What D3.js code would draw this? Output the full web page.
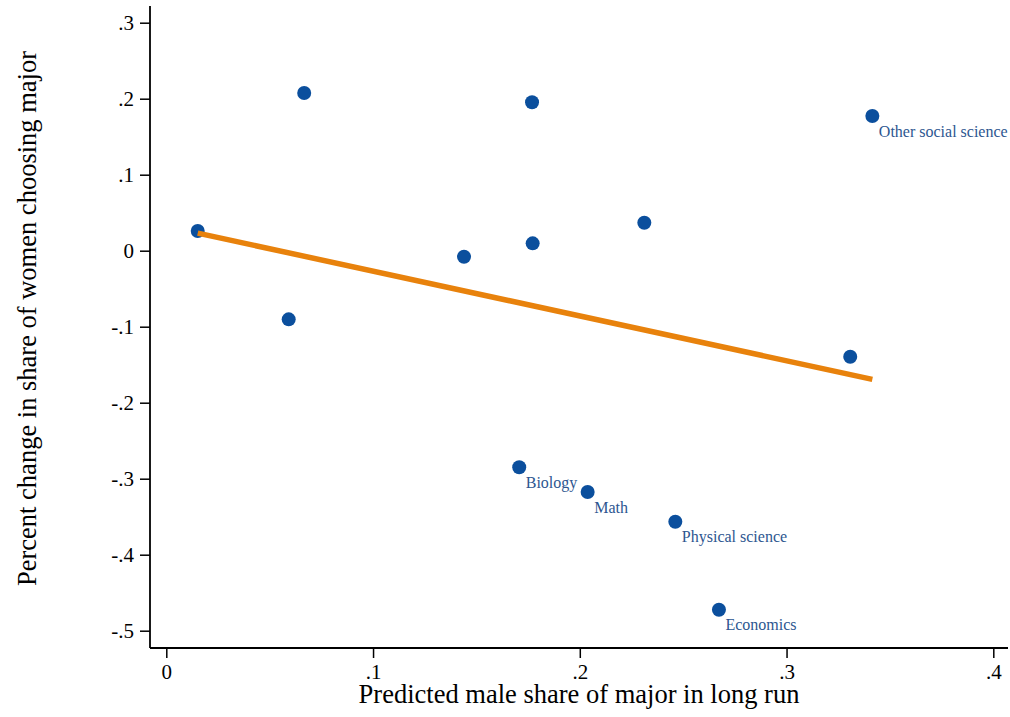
<!DOCTYPE html>
<html>
<head>
<meta charset="utf-8">
<script src="https://cdn.jsdelivr.net/npm/d3@7"></script>
<style>
  body { margin: 0; background: #fff; }
  text { font-family: "Liberation Serif", "Times New Roman", serif; }
</style>
</head>
<body>
<div id="chart"></div>
<script>
// values
const maleShare = [0.0152, 0.0667, 0.1769, 0.1440, 0.1772, 0.2312, 0.0592, 0.1707, 0.2038, 0.2462, 0.2673, 0.3415, 0.3308];
const womenChange = [0.0259, 0.2075, 0.1953, -0.0079, 0.0097, 0.0368, -0.0903, -0.2850, -0.3175, -0.3566, -0.4724, 0.1772, -0.1395];
const majorLabels = ["", "", "", "", "", "", "", "Biology", "Math", "Physical science", "Economics", "Other social science", ""];
const xTicks = [0, 0.1, 0.2, 0.3, 0.4];
const yTicks = [0.3, 0.2, 0.1, 0, -0.1, -0.2, -0.3, -0.4, -0.5];

const W = 1010, H = 717;
const plotLeft = 150, plotRight = 1008, plotTop = 6, plotBottom = 648;

const svg = d3.select("#chart").append("svg")
  .attr("width", W)
  .attr("height", H);

const x = d3.scaleLinear().domain([0, 0.4]).range([166.3, 993.3]);
const y = d3.scaleLinear().domain([-0.5, 0.3]).range([630.7, 22.7]);

// Stata style: no leading zero, plain hyphen for minus
const fmt = d => d === 0 ? "0" : (d < 0 ? "-" : "") + Math.abs(d).toFixed(1).replace(/^0\./, ".");

// x axis
const gx = svg.append("g")
  .attr("transform", `translate(0,${plotBottom})`)
  .call(d3.axisBottom(x).tickValues(xTicks).tickSize(10).tickPadding(6).tickFormat(fmt));
gx.select(".domain").remove();
gx.selectAll("text").style("font-size", "21px").attr("fill", "#000");
gx.selectAll("line").attr("stroke", "#000").attr("stroke-width", 1.5);

// y axis
const gy = svg.append("g")
  .attr("transform", `translate(${plotLeft},0)`)
  .call(d3.axisLeft(y).tickValues(yTicks).tickSize(10).tickPadding(6).tickFormat(fmt));
gy.select(".domain").remove();
gy.selectAll("text").style("font-size", "21px").attr("fill", "#000");
gy.selectAll("line").attr("stroke", "#000").attr("stroke-width", 1.5);

// axis lines
svg.append("line")
  .attr("x1", plotLeft).attr("x2", plotRight)
  .attr("y1", plotBottom).attr("y2", plotBottom)
  .attr("stroke", "#000").attr("stroke-width", 1.8);
svg.append("line")
  .attr("x1", plotLeft).attr("x2", plotLeft)
  .attr("y1", plotTop).attr("y2", plotBottom)
  .attr("stroke", "#000").attr("stroke-width", 1.8);

// points
const data = maleShare.map((d, i) => ({x: d, y: womenChange[i], label: majorLabels[i]}));

svg.selectAll("circle.pt")
  .data(data)
  .enter()
  .append("circle")
    .attr("class", "pt")
    .attr("cx", d => x(d.x))
    .attr("cy", d => y(d.y))
    .attr("r", 7)
    .attr("fill", "#0b4f9d");

// linear fit (OLS)
const mx = d3.mean(maleShare), my = d3.mean(womenChange);
const sxy = d3.sum(data, d => (d.x - mx) * (d.y - my));
const sxx = d3.sum(data, d => (d.x - mx) * (d.x - mx));
const slope = sxy / sxx, intercept = my - slope * mx;
const [xmin, xmax] = d3.extent(maleShare);

svg.append("line")
  .attr("x1", x(xmin)).attr("y1", y(intercept + slope * xmin))
  .attr("x2", x(xmax)).attr("y2", y(intercept + slope * xmax))
  .attr("stroke", "#e8820c")
  .attr("stroke-width", 5.5);

// labels
svg.selectAll("text.lbl")
  .data(data.filter(d => d.label))
  .enter()
  .append("text")
    .attr("class", "lbl")
    .attr("x", d => x(d.x) + 6.5)
    .attr("y", d => y(d.y) + 20.5)
    .style("font-size", "16px")
    .attr("fill", "#2d5690")
    .text(d => d.label);

// axis titles
svg.append("text")
  .attr("x", 579)
  .attr("y", 703)
  .attr("text-anchor", "middle")
  .style("font-size", "26.5px")
  .text("Predicted male share of major in long run");

svg.append("text")
  .attr("transform", "translate(36,318.5) rotate(-90)")
  .attr("text-anchor", "middle")
  .style("font-size", "26.5px")
  .text("Percent change in share of women choosing major");
</script>
</body>
</html>
